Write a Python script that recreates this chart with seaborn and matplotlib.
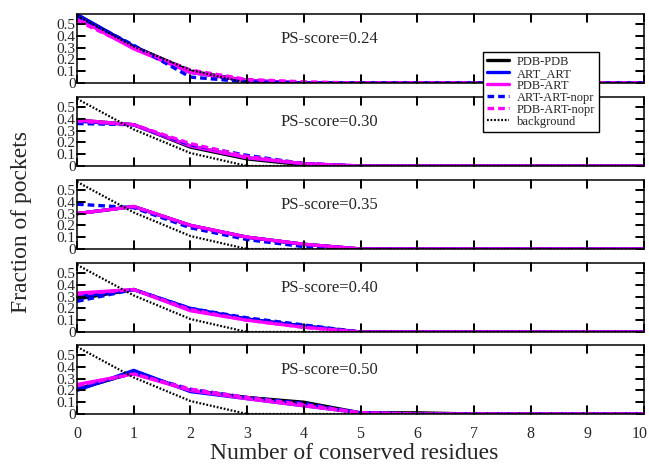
import numpy as np
import pandas as pd
import matplotlib
matplotlib.use('Agg')
import matplotlib.pyplot as plt
import matplotlib.transforms as mtransforms
from matplotlib.lines import Line2D
import seaborn as sns

# Data
x_vals = list(range(11))
y_ticks = [0, 0.1, 0.2, 0.3, 0.4, 0.5]
y_ticklabels = ['0', '0.1', '0.2', '0.3', '0.4', '0.5']
scores = ['0.24', '0.30', '0.35', '0.40', '0.50']

pdb_pdb = [
    [0.58, 0.31, 0.10, 0.02, 0.00, 0, 0, 0, 0, 0, 0],
    [0.39, 0.35, 0.16, 0.06, 0.01, 0, 0, 0, 0, 0, 0],
    [0.30, 0.36, 0.20, 0.10, 0.04, 0, 0, 0, 0, 0, 0],
    [0.28, 0.36, 0.19, 0.11, 0.05, 0, 0, 0, 0, 0, 0],
    [0.21, 0.35, 0.20, 0.14, 0.10, 0.01, 0.01, 0, 0, 0, 0],
]
art_art = [
    [0.58, 0.31, 0.09, 0.02, 0.00, 0, 0, 0, 0, 0, 0],
    [0.38, 0.35, 0.17, 0.07, 0.02, 0, 0, 0, 0, 0, 0],
    [0.30, 0.36, 0.20, 0.10, 0.04, 0, 0, 0, 0, 0, 0],
    [0.30, 0.36, 0.20, 0.11, 0.05, 0, 0, 0, 0, 0, 0],
    [0.20, 0.37, 0.19, 0.13, 0.07, 0.01, 0, 0, 0, 0, 0],
]
pdb_art = [
    [0.55, 0.29, 0.09, 0.02, 0.00, 0, 0, 0, 0, 0, 0],
    [0.39, 0.35, 0.17, 0.07, 0.02, 0, 0, 0, 0, 0, 0],
    [0.30, 0.36, 0.20, 0.10, 0.04, 0, 0, 0, 0, 0, 0],
    [0.33, 0.36, 0.18, 0.10, 0.04, 0, 0, 0, 0, 0, 0],
    [0.25, 0.34, 0.20, 0.13, 0.07, 0.01, 0, 0, 0, 0, 0],
]
art_art_nopr = [
    [0.57, 0.32, 0.05, 0.01, 0.00, 0, 0, 0, 0, 0, 0],
    [0.36, 0.35, 0.18, 0.09, 0.02, 0, 0, 0, 0, 0, 0],
    [0.38, 0.35, 0.18, 0.08, 0.02, 0, 0, 0, 0, 0, 0],
    [0.26, 0.36, 0.20, 0.12, 0.06, 0, 0, 0, 0, 0, 0],
    [0.21, 0.35, 0.21, 0.14, 0.09, 0.01, 0, 0, 0, 0, 0],
]
pdb_art_nopr = [
    [0.53, 0.30, 0.11, 0.03, 0.01, 0, 0, 0, 0, 0, 0],
    [0.38, 0.35, 0.19, 0.08, 0.02, 0, 0, 0, 0, 0, 0],
    [0.30, 0.36, 0.20, 0.10, 0.04, 0, 0, 0, 0, 0, 0],
    [0.32, 0.36, 0.19, 0.10, 0.04, 0, 0, 0, 0, 0, 0],
    [0.24, 0.34, 0.21, 0.14, 0.08, 0.01, 0, 0, 0, 0, 0],
]
background = [0.57, 0.31, 0.11, 0.00, 0, 0, 0, 0, 0, 0, 0]

series = [
    ('PDB-PDB', pdb_pdb, dict(color='black', lw=2.4, ls='-')),
    ('ART_ART', art_art, dict(color='#0000ff', lw=2.4, ls='-')),
    ('PDB-ART', pdb_art, dict(color='#ff00ff', lw=2.4, ls='-')),
    ('ART-ART-nopr', art_art_nopr, dict(color='#0000ff', lw=2.4, ls=(0, (2, 1.2)))),
    ('PDB-ART-nopr', pdb_art_nopr, dict(color='#ff00ff', lw=2.4, ls=(0, (2, 1.2)))),
]

sns.set_style('white')
plt.rcParams['font.family'] = ['Liberation Serif', 'DejaVu Serif']

W, H = 649, 472
fig = plt.figure(figsize=(W / 100, H / 100), dpi=100)

x0, x1 = 77, 644
tops = [14, 97, 180, 263, 345]
ph = 69
tick_len = 8  # px
axes = []

for i, top in enumerate(tops):
    ax = fig.add_axes([x0 / W, 1 - (top + ph) / H, (x1 - x0) / W, ph / H])
    axes.append(ax)
    for name, data, st in series:
        df = pd.DataFrame({'x': x_vals, 'y': data[i]})
        sns.lineplot(data=df, x='x', y='y', ax=ax, color=st['color'],
                     linewidth=st['lw'], linestyle=st['ls'],
                     label=name if i == 0 else None, legend=False)
    dfb = pd.DataFrame({'x': x_vals, 'y': background})
    sns.lineplot(data=dfb, x='x', y='y', ax=ax, color='black', linewidth=1.6,
                 linestyle=(0, (0.8, 0.8)), label='background' if i == 0 else None,
                 legend=False)

    ax.set_xlim(0, 10)
    ax.set_ylim(0, 0.585)
    ax.set_xticks(x_vals)
    ax.set_yticks(y_ticks)
    ax.set_yticklabels(y_ticklabels, fontsize=11)
    ax.set_xlabel('')
    ax.set_ylabel('')
    ax.tick_params(axis='both', which='major', direction='in', length=6,
                   width=1.3, color='black', bottom=True, left=True,
                   top=True, right=True)
    ax.tick_params(axis='y', pad=1)
    if i < len(tops) - 1:
        ax.tick_params(axis='x', labelbottom=False)
    else:
        ax.tick_params(axis='x', labelsize=11.5, pad=9)
    for sp in ax.spines.values():
        sp.set_color('black')
        sp.set_linewidth(1.1)

    bx = mtransforms.blended_transform_factory(ax.transData, ax.transAxes)
    ax.text(4.45, 0.64, f'PS-score={scores[i]}', fontsize=12, ha='center',
            va='center', transform=bx)
    if i == 0:
        handles, labels = ax.get_legend_handles_labels()

# inward tick marks on all four sides, drawn at figure level on top of
# the panels, positioned through each panel's own scales
for ax in axes:
    bx = mtransforms.blended_transform_factory(ax.transData, ax.transAxes)
    by = mtransforms.blended_transform_factory(ax.transAxes, ax.transData)
    fx = tick_len / ph
    fy = tick_len / (x1 - x0)
    for xv in x_vals[1:-1]:
        for ys in ([0, fx], [1 - fx, 1]):
            fig.add_artist(Line2D([xv, xv], ys, transform=bx, color='black',
                                  lw=1.3, zorder=10))
    for yv in y_ticks[1:]:
        for xs in ([0, fy], [1 - fy, 1]):
            fig.add_artist(Line2D(xs, [yv, yv], transform=by, color='black',
                                  lw=1.3, zorder=10))

leg = fig.legend(handles, labels, loc='upper left',
                 bbox_to_anchor=(483 / W, 1 - 52 / H), fontsize=9,
                 frameon=True, fancybox=False, framealpha=1, edgecolor='black',
                 handlelength=1.8, handletextpad=0.6, labelspacing=0.0,
                 borderpad=0.3, borderaxespad=0)
leg.get_frame().set_linewidth(1.0)
leg.set_zorder(20)

last = axes[-1].get_xticklabels()[-1]
last.set_transform(last.get_transform() + mtransforms.ScaledTranslation(
    -4 / 100, 0, fig.dpi_scale_trans))

fig.text(0.5 + 30 / W, 8 / H, 'Number of conserved residues', ha='center',
         va='bottom', fontsize=17)
fig.text(22 / W, 0.53, 'Fraction of pockets', rotation=90, ha='center',
         va='center', fontsize=17)

fig.savefig('out.png', dpi=100)
